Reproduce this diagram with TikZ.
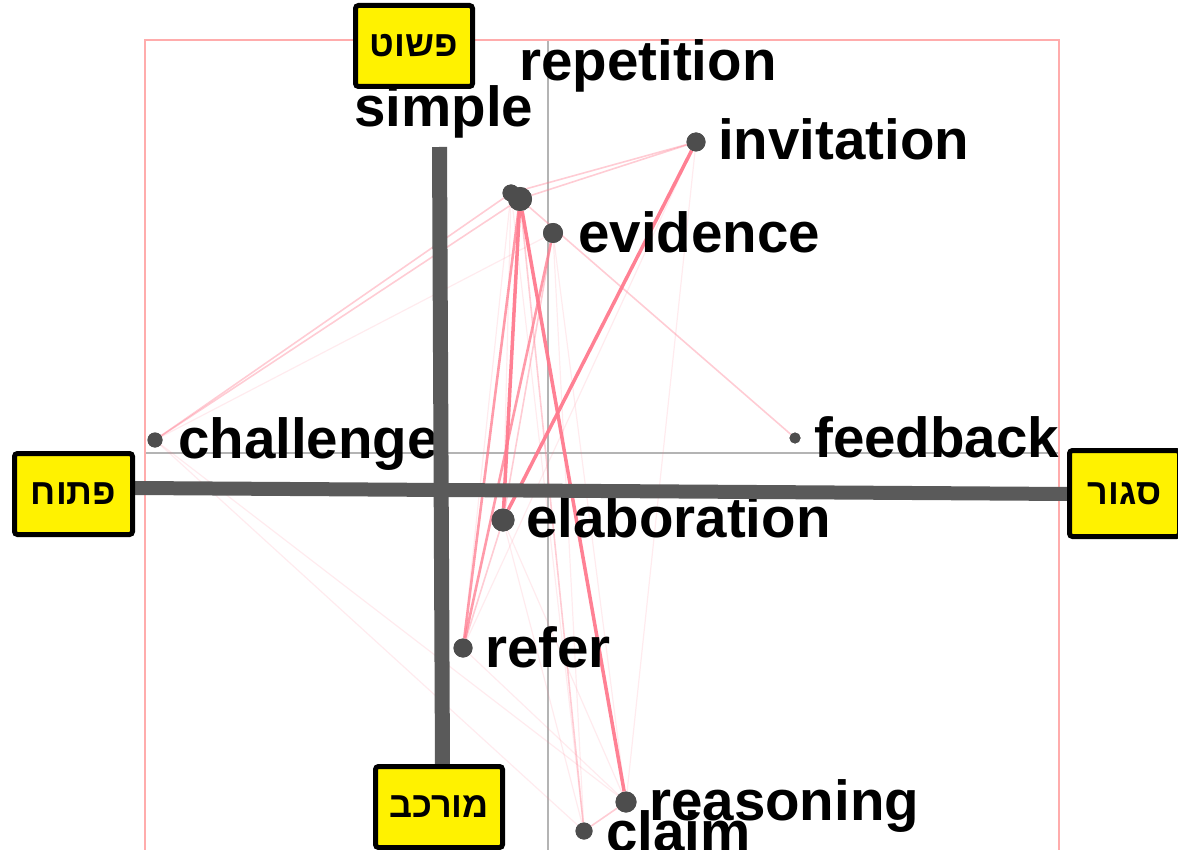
\documentclass[tikz,border=0pt]{standalone}
\usepackage{fontspec}
\setmainfont{Liberation Sans}
\newfontfamily\heb[Script=Hebrew]{Liberation Sans}
\TeXXeTstate=1
\definecolor{edgepink}{HTML}{FF7A8E}
\definecolor{framepink}{HTML}{FFACAC}
\definecolor{axisgray}{HTML}{B4B4B4}
\definecolor{bargray}{HTML}{5A5A5A}
\definecolor{dotgray}{HTML}{4D4D4D}
\begin{document}
\begin{tikzpicture}[x=1pt,y=-1pt,
  dot/.style={circle,fill=dotgray,inner sep=0pt},
  lab/.style={anchor=base west,inner sep=0pt,font=\fontsize{56.5}{60}\selectfont\bfseries},
  strongedge/.style={draw=edgepink,line width=3.5pt,opacity=0.95},
  midedge/.style={draw=edgepink,line width=2.6pt,opacity=0.75},
  lightedge/.style={draw=edgepink,line width=1.6pt,opacity=0.38},
  faintedge/.style={draw=edgepink,line width=1.2pt,opacity=0.15},
  hbox/.style={draw=black,line width=5pt,fill=yellow,rounded corners=3pt,inner sep=0pt,font=\fontsize{36}{40}\selectfont\heb\bfseries},
  bar/.style={draw=bargray,line width=14pt}]
\useasboundingbox (0,0) rectangle (1178,850);
% background guides
\draw[axisgray,line width=1.2pt] (548,40) -- (548,850);
\draw[axisgray,line width=1.2pt] (145,453) -- (1059,453);
\draw[framepink,line width=1.5pt] (145,860) -- (145,40) -- (1059,40) -- (1059,860);
% dots
\node[dot,minimum size=17pt] (simp) at (511,193) {};
\node[dot,minimum size=24pt] (rep) at (520,199) {};
\node[dot,minimum size=19pt] (inv) at (696,142) {};
\node[dot,minimum size=20pt] (evid) at (553,233) {};
\node[dot,minimum size=15pt] (chal) at (155,440) {};
\node[dot,minimum size=11pt] (feed) at (795,438) {};
\node[dot,minimum size=23pt] (elab) at (503,520) {};
\node[dot,minimum size=19pt] (refer) at (463,648) {};
\node[dot,minimum size=21pt] (reas) at (626,802) {};
\node[dot,minimum size=17pt] (claim) at (584,831) {};
% edges
\path[faintedge] (chal) -- (evid);
\path[faintedge] (chal) -- (reas);
\path[faintedge] (chal) -- (claim);
\path[faintedge] (inv) -- (reas);
\path[faintedge] (inv) -- (refer);
\path[faintedge] (evid) -- (claim);
\path[faintedge] (evid) -- (reas);
\path[faintedge] (elab) -- (claim);
\path[faintedge] (elab) -- (reas);
\path[faintedge] (refer) -- (reas);
\path[faintedge] (simp) -- (elab);
\path[faintedge] (simp) -- (refer);
\path[faintedge] (simp) -- (claim);
\path[lightedge] (rep) -- (feed);
\path[lightedge] (simp) -- (inv);
\path[lightedge] (rep) -- (inv);
\path[lightedge] (rep) -- (chal);
\path[lightedge] (simp) -- (chal);
\path[lightedge] (reas) -- (claim);
\path[lightedge] (evid) -- (elab);
\path[lightedge] (refer) -- (elab);
\path[lightedge] (rep) -- (claim);
\path[midedge] (evid) -- (refer);
\path[midedge] (rep) -- (refer);
\path[strongedge] (rep) -- (elab);
\path[strongedge] (rep) -- (reas);
\path[strongedge] (inv) -- (elab);
% redraw dots on top
\foreach \n/\s in {simp/17,rep/24,inv/19,evid/20,chal/15,feed/11,elab/23,refer/19,reas/21,claim/17}
  \fill[dotgray] (\n.center) circle[radius=\s/2];
% labels
\node[lab] (lsimple) at (354,127) {simple};
\node[lab] (lrep) at (519,81) {repetition};
\node[lab] (linv) at (718,160) {invitation};
\node[lab] (levid) at (578,253) {evidence};
\node[lab] (lchal) at (178,458) {challenge};
\node[lab] (lfeed) at (814,457) {feedback};
\node[lab] (lelab) at (526,537) {elaboration};
\node[lab] (lrefer) at (485,667) {refer};
\node[lab] (lreas) at (649,820) {reasoning};
\node[lab] (lclaim) at (606,851) {claim};
% thick axes
\coordinate (hleft) at (135,488);
\coordinate (hright) at (1068,494);
\coordinate (vtop) at (439.5,147);
\coordinate (vbot) at (442.5,766);
\draw[bar] (hleft) -- (hright);
\draw[bar,line width=15pt] (vtop) -- (vbot);
% yellow boxes
\node[hbox,minimum width=117pt,minimum height=81pt] (top) at (414,46) {\beginR פשוט\endR};
\node[hbox,minimum width=118pt,minimum height=81pt] (left) at (73.5,494) {\beginR פתוח\endR};
\node[hbox,minimum width=110pt,minimum height=86pt] (right) at (1124.5,493.5) {\beginR סגור\endR};
\node[hbox,minimum width=127pt,minimum height=81pt] (bottom) at (439,807) {\beginR מורכב\endR};
\end{tikzpicture}
\end{document}
